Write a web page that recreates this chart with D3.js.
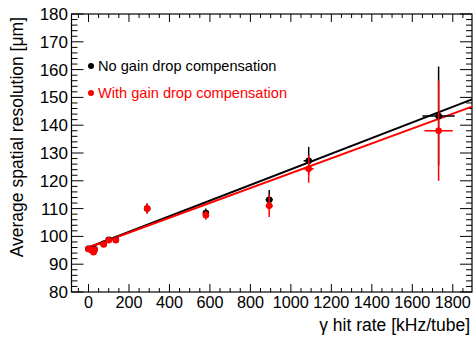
<!DOCTYPE html>
<html><head><meta charset="utf-8">
<script src="https://cdn.jsdelivr.net/npm/d3@7"></script>
<style>body{margin:0;background:#fff}svg{display:block}text{font-family:"Liberation Sans",Arial,sans-serif}</style>
</head><body><svg id="c" width="475" height="337"></svg>
<script>
// Data
const hitRate      = [0, 15, 25, 30, 75, 100, 135, 290, 580, 893, 1088, 1730];
const hitRateErr   = [0, 0, 0, 0, 0, 0, 0, 0, 0, 18, 25, 80];
const hitRateErrC  = [0, 0, 0, 0, 0, 0, 0, 0, 0, 18, 25, 70];
const resNoComp    = [95.5, 95.2, 94.6, 95.4, 97.3, 98.8, 98.8, 110.0, 108.4, 113.2, 127.2, 143.3];
const errNoComp    = [0.6, 0.6, 0.8, 0.6, 0.8, 0.6, 0.8, 1.8, 1.6, 3.5, 5.0, 17.8];
const resComp      = [95.5, 95.0, 94.3, 95.2, 97.1, 98.6, 98.6, 110.0, 107.6, 111.0, 124.3, 138.0];
const errComp      = [0.6, 0.6, 0.8, 0.6, 0.8, 0.6, 0.8, 1.8, 1.6, 4.0, 5.0, 18.0];
const fitX         = [0, 1895];
const fitNoComp    = [96.0, 149.3];
const fitComp      = [96.0, 146.7];
const xTicks       = [0, 200, 400, 600, 800, 1000, 1200, 1400, 1600, 1800];
const yTicks       = [80, 90, 100, 110, 120, 130, 140, 150, 160, 170, 180];
const legendLabels = ["No gain drop compensation", "With gain drop compensation"];
const colors       = ["#000000", "#ff0000"];

const svg = d3.select("#c");
const L = 71.5, R = 472, T = 14, B = 292;
const x = d3.scaleLinear().domain([-84, 1895]).range([L, R]);
const y = d3.scaleLinear().domain([80, 180]).range([B, T]);

// ticks
const xMinor = d3.range(-50, 1895, 50);
const yMinor = d3.range(80, 180.01, 2);
const g = svg.append("g").attr("stroke", "#000").attr("stroke-width", 1);
xMinor.forEach(v => {
  const maj = v % 200 === 0;
  const len = maj ? 8 : 4;
  g.append("line").attr("x1", x(v)).attr("x2", x(v)).attr("y1", B).attr("y2", B - len);
  g.append("line").attr("x1", x(v)).attr("x2", x(v)).attr("y1", T).attr("y2", T + len);
});
yMinor.forEach(v => {
  const maj = Math.abs(v % 10) < 1e-6;
  const len = maj ? 12 : 6;
  g.append("line").attr("y1", y(v)).attr("y2", y(v)).attr("x1", L).attr("x2", L + len);
  g.append("line").attr("y1", y(v)).attr("y2", y(v)).attr("x1", R).attr("x2", R - len);
});
svg.append("rect").attr("x", L).attr("y", T).attr("width", R - L).attr("height", B - T)
  .attr("fill", "none").attr("stroke", "#000").attr("stroke-width", 1.2);

// tick labels
svg.append("g").selectAll("text").data(xTicks).join("text")
  .attr("x", d => x(d)).attr("y", 308).attr("text-anchor", "middle")
  .attr("font-size", 16.2).text(d => d);
svg.append("g").selectAll("text").data(yTicks).join("text")
  .attr("x", 68).attr("y", d => y(d) + 6).attr("text-anchor", "end")
  .attr("font-size", 17).text(d => d);

// axis titles
svg.append("text").attr("x", 470).attr("y", 331).attr("text-anchor", "end")
  .attr("font-size", 17.5).text("γ hit rate [kHz/tube]");
svg.append("text").attr("transform", "translate(23,17) rotate(-90)").attr("text-anchor", "end")
  .attr("font-size", 17.5).text("Average spatial resolution [μm]");

// fit lines
const line = d3.line().x(d => x(d[0])).y(d => y(d[1]));
svg.append("path").attr("d", line(fitX.map((v, i) => [v, fitNoComp[i]])))
  .attr("stroke", colors[0]).attr("stroke-width", 2).attr("fill", "none");
svg.append("path").attr("d", line(fitX.map((v, i) => [v, fitComp[i]])))
  .attr("stroke", colors[1]).attr("stroke-width", 2).attr("fill", "none");

// data points with error bars
function drawSeries(vals, errs, xerrs, col) {
  const s = svg.append("g");
  hitRate.forEach((xv, i) => {
    s.append("line").attr("x1", x(xv)).attr("x2", x(xv))
      .attr("y1", y(vals[i] - errs[i])).attr("y2", y(vals[i] + errs[i]))
      .attr("stroke", col).attr("stroke-width", 1.5);
    if (xerrs[i] > 0) s.append("line").attr("x1", x(xv - xerrs[i])).attr("x2", x(xv + xerrs[i]))
      .attr("y1", y(vals[i])).attr("y2", y(vals[i]))
      .attr("stroke", col).attr("stroke-width", 1.5);
    s.append("circle").attr("cx", x(xv)).attr("cy", y(vals[i])).attr("r", 3.3).attr("fill", col);
  });
}
drawSeries(resNoComp, errNoComp, hitRateErr, colors[0]);
drawSeries(resComp, errComp, hitRateErrC, colors[1]);

// legend
legendLabels.forEach((lab, i) => {
  const yy = 66 + i * 27;
  svg.append("circle").attr("cx", 91).attr("cy", yy).attr("r", 3).attr("fill", colors[i]);
  svg.append("text").attr("x", 98).attr("y", yy + 5).attr("font-size", 14.6)
    .attr("fill", colors[i]).text(lab);
});
</script></body></html>
